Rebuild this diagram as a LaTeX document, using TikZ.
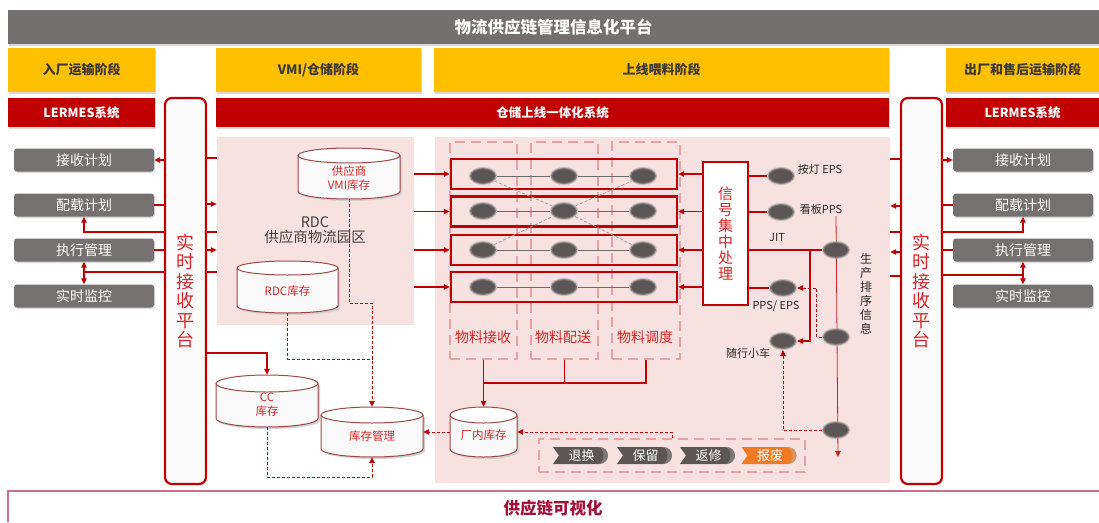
\documentclass[tikz,border=0pt]{standalone}
\usepackage{fontspec}
\setmainfont{Noto Sans CJK SC}
\usetikzlibrary{arrows.meta,shapes.geometric,shapes.symbols,shadows}

\definecolor{titlegray}{HTML}{757070}
\definecolor{stageyellow}{HTML}{FFC000}
\definecolor{stagetext}{HTML}{3B3838}
\definecolor{sysred}{HTML}{C00000}
\definecolor{boxgray}{HTML}{767171}
\definecolor{zonepink}{HTML}{F8E1E1}
\definecolor{dashpink}{HTML}{E8A2A2}
\definecolor{dotgray}{HTML}{5B5555}
\definecolor{textred}{HTML}{D62626}
\definecolor{drumline}{HTML}{A04848}
\definecolor{vizred}{HTML}{A3103A}
\definecolor{vizframe}{HTML}{C8708E}
\definecolor{scraporange}{HTML}{F07A22}

\newcommand{\setfs}[2]{\fontsize{#1}{#2}\selectfont}

% drum-shaped store: name, centre x, top y, bottom y, half width, ellipse radius
\newcommand{\drum}[6]{%
  \fill[black!18] ({#2-#5+2},{-(#3+#6)-2}) -- ({#2-#5+2},{-(#4-#6)-2})
    arc[start angle=180,end angle=360,x radius=#5pt,y radius=#6pt]
    -- ({#2+#5+2},{-(#3+#6)-2}) -- cycle;
  \fill[white!95!gray] ({#2-#5},{-(#3+#6)}) -- ({#2-#5},{-(#4-#6)})
    arc[start angle=180,end angle=360,x radius=#5pt,y radius=#6pt]
    -- ({#2+#5},{-(#3+#6)}) -- cycle;
  \draw[drumline,line width=1pt] ({#2-#5},{-(#3+#6)}) -- ({#2-#5},{-(#4-#6)})
    arc[start angle=180,end angle=360,x radius=#5pt,y radius=#6pt]
    -- ({#2+#5},{-(#3+#6)});
  \draw[drumline,line width=1pt,fill=white] (#2,{-(#3+#6)}) ellipse[x radius=#5pt,y radius=#6pt];
  \node[inner sep=0pt,minimum width={2*#5},minimum height={#4-#3}] (#1) at (#2,{-(#3+#4)/2}) {};
}

% step tag with notched tail and round head: name, centre x, centre y, colour, text
\newcommand{\steptag}[5]{%
  \fill[#4] ({#2-27.5},{#3+8.5}) -- ({#2+19},{#3+8.5})
    arc[start angle=90,end angle=-90,x radius=8.5pt,y radius=8.5pt]
    -- ({#2-27.5},{#3-8.5}) -- ({#2-21.5},#3) -- cycle;
  \fill[black!25,opacity=0.35] ({#2+19},{#3+8.5})
    arc[start angle=90,end angle=-90,x radius=8.5pt,y radius=8.5pt]
    -- ({#2+17},{#3-8.5}) arc[start angle=-90,end angle=90,x radius=6pt,y radius=8.5pt] -- cycle;
  \node[text=white,font=\setfs{13}{15}] (#1) at ({#2+1},#3) {#5};
}

\begin{document}
\begin{tikzpicture}[x=1pt,y=1pt,
  every node/.style={inner sep=0pt},
  tip/.style={-{Triangle[length=6pt,width=5.5pt]}},
  ln/.style={draw=sysred,line width=1.1pt},
  arr/.style={ln,tip},
  dashln/.style={draw=sysred,line width=0.9pt,dash pattern=on 3pt off 2pt},
  dasharr/.style={dashln,tip},
  thinarr/.style={draw=sysred!85,line width=0.8pt,tip},
  softshadow/.style={drop shadow={shadow xshift=1.2pt,shadow yshift=-1.5pt,opacity=0.3}},
  titlebar/.style={fill=titlegray,minimum width=1091,minimum height=34,text=white,
    font=\bfseries\setfs{16.5}{18},softshadow},
  stage/.style={fill=stageyellow,minimum height=44,text=stagetext,
    font=\bfseries\setfs{13}{15},softshadow},
  sys/.style={fill=sysred,minimum height=29,text=white,
    font=\bfseries\setfs{12.5}{14},softshadow},
  platform/.style={draw=sysred,line width=2.2pt,fill=gray!3,rounded corners=7pt,
    minimum width=41,minimum height=386,align=center,text=textred,
    font=\setfs{18}{19.5}},
  func/.style={fill=boxgray,rounded corners=3pt,minimum width=140,minimum height=23,
    text=white,font=\setfs{14}{16},softshadow},
  zone/.style={fill=zonepink},
  lane/.style={draw=dashpink,line width=2.5pt,dash pattern=on 10pt off 6pt,
    minimum height=217},
  lanelbl/.style={text=textred,font=\setfs{14}{16}},
  track/.style={draw=sysred,line width=2.4pt,minimum width=226,minimum height=30},
  dot/.style={ellipse,fill=dotgray,draw=dotgray!55,line width=2.2pt,draw opacity=0.55,
    minimum width=26,minimum height=16},
  link/.style={draw=gray!85!black,line width=0.8pt},
  xlink/.style={draw=gray!75,line width=0.8pt,dash pattern=on 3pt off 2pt},
  hub/.style={draw=sysred,line width=2.4pt,fill=white,minimum width=45,minimum height=143,
    align=center,text=textred,font=\setfs{15}{16}},
  tag/.style={text=black!85,font=\setfs{11}{13}},
  drumtext/.style={text=textred,align=center,font=\setfs{11.5}{14}},
  grp/.style={draw=dashpink,line width=2.2pt,dash pattern=on 10pt off 6pt,
    minimum width=266,minimum height=33},
  viz/.style={text=vizred,font=\bfseries\setfs{16.5}{18}}
]
\useasboundingbox (0,0) rectangle (1099,-522);
\fill[white] (0,0) rectangle (1099,-522);

% header, stages and systems
\node[titlebar] (title) at (553.5,-27) {物流供应链管理信息化平台};
\node[stage,minimum width=147] (st1) at (81.5,-70) {入厂运输阶段};
\node[stage,minimum width=205] (st2) at (318.5,-70) {VMI/仓储阶段};
\node[stage,minimum width=455] (st3) at (661.5,-70) {上线喂料阶段};
\node[stage,minimum width=153] (st4) at (1022.5,-70) {出厂和售后运输阶段};
\node[sys,minimum width=147] (sy1) at (81.5,-112.5) {LERMES系统};
\node[sys,minimum width=673] (sy2) at (552.5,-112.5) {仓储上线一体化系统};
\node[sys,minimum width=153] (sy3) at (1022.5,-112.5) {LERMES系统};

% zones
\node[zone,minimum width=197,minimum height=188] (rdc) at (315.5,-231) {};
\node[zone,minimum width=455,minimum height=346] (plant) at (662.5,-310) {};
\node[text=black!75,align=center,font=\setfs{14.5}{15}] (rdclbl) at (315,-230.5) {RDC\\供应商物流园区};

% receiving platforms
\node[platform] (lbar) at (185.5,-291) {实\\时\\接\\收\\平\\台};
\node[platform] (rbar) at (921.5,-291) {实\\时\\接\\收\\平\\台};

% functions on both sides
\node[func] (recvL) at (84,-160) {接收计划};
\node[func] (loadL) at (84,-205) {配载计划};
\node[func] (execL) at (84,-250) {执行管理};
\node[func] (monL)  at (84,-296) {实时监控};
\node[func] (recvR) at (1023,-160) {接收计划};
\node[func] (loadR) at (1023,-205) {配载计划};
\node[func] (execR) at (1023,-250) {执行管理};
\node[func] (monR)  at (1023,-296) {实时监控};

\draw[arr] (lbar.west |- recvL.east) -- (recvL.east);
\draw[ln] (loadL.east) -- (loadL.east -| lbar.west);
\draw[arr] (lbar.west |- 0,-232) -| (loadL.south);
\draw[ln] (execL.east) -- (execL.east -| lbar.west);
\draw[arr] (lbar.west |- 0,-272) -| (execL.south);
\draw[arr] (execL.south |- 0,-272) -- (monL.north);

\draw[arr] (rbar.east |- recvR.west) -- (recvR.west);
\draw[ln] (rbar.east |- loadR.west) -- (loadR.west);
\draw[arr] (rbar.east |- 0,-232) -| (loadR.south);
\draw[ln] (rbar.east |- execR.west) -- (execR.west);
\draw[arr] (rbar.east |- 0,-275) -| (execR.south);
\draw[arr] (execR.south |- 0,-275) -- (monR.north);

\foreach \yy in {158,232,272} \draw[ln] (lbar.east |- 0,-\yy) -- (rdc.west |- 0,-\yy);
\foreach \yy in {204,250} \draw[arr] (lbar.east |- 0,-\yy) -- (rdc.west |- 0,-\yy);
\foreach \yy in {159,232,276} \draw[ln] (rbar.west |- 0,-\yy) -- (plant.east |- 0,-\yy);
\foreach \yy in {206,252} \draw[arr] (rbar.west |- 0,-\yy) -- (plant.east |- 0,-\yy);

% stores
\drum{vmi}{349}{148}{199}{51}{7.5}
\node[drumtext] at (349,-178) {供应商\\VMI库存};
\drum{rdcinv}{287.5}{261}{313}{50.5}{7}
\node[drumtext] at (287.5,-291) {RDC库存};
\drum{ccinv}{267}{375}{427}{51}{8.5}
\node[drumtext] at (267,-404.5) {CC\\库存};
\drum{invmgmt}{372}{407}{457}{51}{8}
\node[drumtext] at (372,-436) {库存管理};
\drum{plantinv}{483.5}{407}{457}{33.5}{8}
\node[drumtext] at (483.5,-435) {厂内库存};

\draw[dasharr] (vmi.south) -- ++(0,-104) -| (invmgmt.north);
\draw[dashln] (rdcinv.south) |- (invmgmt.north |- 0,-359);
\draw[dasharr] (ccinv.south) -- ++(0,-50) -| (invmgmt.south);
\draw[dasharr] (plantinv.west) -- (invmgmt.east);
\draw[arr] (lbar.east |- 0,-353) -| (ccinv.north);

% material lanes
\node[lane,minimum width=67] (col1) at (483.5,-250.5) {};
\node[lane,minimum width=67] (col2) at (564.5,-250.5) {};
\node[lane,minimum width=68] (col3) at (646,-250.5) {};
\node[lanelbl] (lbl1) at (483,-337) {物料接收};
\node[lanelbl] (lbl2) at (563,-337) {物料配送};
\node[lanelbl] (lbl3) at (645,-337) {物料调度};

\node[track] (row1) at (564,-174) {};
\node[track] (row2) at (564,-211.5) {};
\node[track] (row3) at (564,-250) {};
\node[track] (row4) at (564,-287) {};

\foreach \r/\yy in {1/176,2/211,3/250,4/287}{
  \node[dot] (d\r1) at (483,-\yy) {};
  \node[dot] (d\r2) at (564,-\yy) {};
  \node[dot] (d\r3) at (643,-\yy) {};
  \draw[link] (d\r1) -- (d\r2) -- (d\r3);
}
\draw[xlink] (d11) -- (d22) -- (d33);
\draw[xlink] (d31) -- (d22) -- (d13);

\foreach \r in {1,2,3,4} \draw[arr] (rdc.east |- row\r.west) -- (row\r.west);

\draw[arr] (col1.south) -- (plantinv.north);
\draw[ln] (col2.south) |- (col1.south |- 0,-383);
\draw[ln] (col3.south) |- (col1.south |- 0,-383);

% signal hub and line-side signals
\node[hub] (sig) at (725.5,-233.5) {信\\号\\集\\中\\处\\理};
\foreach \r in {1,2,3,4} \draw[arr] (sig.west |- row\r.east) -- (row\r.east);

\coordinate (seqtop) at (836,-216);
\coordinate (seqend) at (838,-457);
\draw[thinarr] (seqtop) -- (seqend);

\node[dot] (eps) at (781,-176) {};
\node[dot] (pps) at (781,-212) {};
\node[dot] (jit) at (836,-250) {};
\node[dot] (ppseps) at (783,-288) {};
\node[dot] (cart) at (783,-341) {};
\node[dot] (sched) at (836,-337) {};
\node[dot] (ret) at (836,-430) {};

\node[tag] (epslbl) at (820,-169) {按灯 EPS};
\node[tag] (ppslbl) at (821,-209) {看板PPS};
\node[tag] (jitlbl) at (777,-238) {JIT};
\node[tag] (ppsepslbl) at (776,-306) {PPS/ EPS};
\node[tag] (cartlbl) at (748,-353) {随行小车};
\node[tag,align=center,font=\setfs{12}{14}] (seqlbl) at (866,-293.5) {生\\产\\排\\序\\信\\息};

\draw[ln] (sig.east |- eps) -- (eps);
\draw[ln] (sig.east |- pps) -- (pps);
\draw[ln] (sig.east |- jit) -- (jit);
\draw[ln] (sig.east |- ppseps) -- (ppseps);
\coordinate (jitfork) at (810,-250);
\draw[arr] (jitfork) |- (cart);
\draw[dasharr] (sched.west) -- ++(-5,0) |- (ppseps);
\draw[dasharr] (ret.west) -| (cart.south);

% returns handling
\node[grp] (grp) at (672,-455.5) {};
\steptag{c1}{580.5}{-455.5}{dotgray}{退换}
\steptag{c2}{644.5}{-455.5}{dotgray}{保留}
\steptag{c3}{707.5}{-455.5}{dotgray}{返修}
\steptag{c4}{769}{-455.5}{scraporange}{报废}
\draw[dasharr] (grp.north) |- (plantinv.east);

% visibility band
\draw[vizframe,line width=1.2pt] (8,-522) -- (8,-491) -- (1099,-491);
\node[viz] (vizlbl) at (553,-508) {供应链可视化};
\end{tikzpicture}
\end{document}
